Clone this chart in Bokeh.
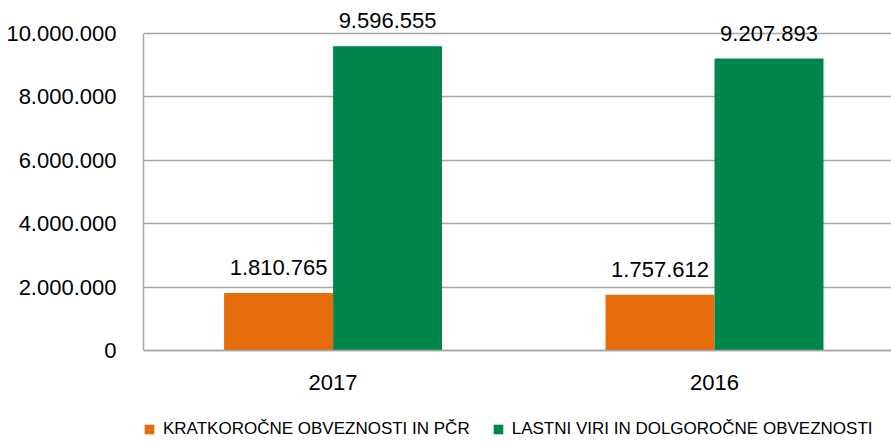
from bokeh.plotting import figure
from bokeh.models import (ColumnDataSource, Range1d, FixedTicker, CustomJSTickFormatter,
                          Legend, LegendItem, LabelSet, LinearAxis)
from bokeh.transform import dodge
from bokeh.core.properties import value
from bokeh.embed import file_html
from bokeh.resources import INLINE

years = ["2017", "2016"]
short_term = [1810765, 1757612]
long_term = [9596555, 9207893]
series_names = ["KRATKOROČNE OBVEZNOSTI IN PČR", "LASTNI VIRI IN DOLGOROČNE OBVEZNOSTI"]
y_ticks = [0, 2000000, 4000000, 6000000, 8000000, 10000000]
y_max = 10000000

ORANGE = "#E46C0A"
GREEN = "#00854A"
GRID = "#A6A6A6"
FONT = "Liberation Sans"

W, H = 891, 441
TOP, LEFT = 8, 143
PLOT_H = 317          # pixel height of 0..y_max
HEADROOM = 25         # pixels above y_max (for value labels)
FRAME_H = H - TOP
y_end = y_max * (PLOT_H + HEADROOM) / PLOT_H
y_start = y_end - y_max * FRAME_H / PLOT_H


def fmt(v):
    return f"{v:,}".replace(",", ".")


src = ColumnDataSource(dict(
    x=[i + 0.5 for i in range(len(years))],
    short=short_term,
    long=long_term,
    short_lbl=[fmt(v) for v in short_term],
    long_lbl=[fmt(v) for v in long_term],
))

p = figure(width=W, height=H, x_range=Range1d(0.003, 1.964), y_range=Range1d(y_start, y_end),
           output_backend="svg", toolbar_location=None, x_axis_location=None,
           min_border_left=LEFT, min_border_right=0, min_border_top=TOP, min_border_bottom=0)
p.outline_line_color = None
p.background_fill_color = "white"

bw = 0.2857
r1 = p.vbar(x=dodge("x", -bw / 2, range=p.x_range), top="short", width=bw, bottom=0,
            source=src, fill_color=ORANGE, line_color=None)
r2 = p.vbar(x=dodge("x", bw / 2, range=p.x_range), top="long", width=bw, bottom=0,
            source=src, fill_color=GREEN, line_color=None)

for col, lbl, off in (("short", "short_lbl", -bw / 2), ("long", "long_lbl", bw / 2)):
    ls = LabelSet(x=dodge("x", off, range=p.x_range), y=col, text=lbl, source=src,
                  text_align="center", text_baseline="bottom", y_offset=18,
                  text_font=value(FONT), text_font_size="22px", text_color="#000000")
    p.add_layout(ls)

# x axis drawn at y = 0
xaxis = LinearAxis(fixed_location=0,
                   ticker=FixedTicker(ticks=[i + 0.5 for i in range(len(years))]),
                   major_label_overrides={i + 0.5: y for i, y in enumerate(years)})
xaxis.major_tick_line_color = None
xaxis.minor_tick_line_color = None
xaxis.axis_line_color = GRID
xaxis.axis_line_width = 1.5
xaxis.major_label_standoff = 18
xaxis.major_label_text_font = FONT
xaxis.major_label_text_font_size = "22px"
xaxis.major_label_text_color = "#000000"
p.add_layout(xaxis, "below")

p.yaxis.ticker = FixedTicker(ticks=y_ticks)
p.yaxis.bounds = (0, y_max)
p.yaxis.formatter = CustomJSTickFormatter(
    code='return tick.toFixed(0).replace(/\\B(?=(\\d{3})+(?!\\d))/g, ".");')
p.yaxis.major_tick_line_color = None
p.yaxis.minor_tick_line_color = None
p.yaxis.axis_line_color = GRID
p.yaxis.axis_line_width = 1.5
p.yaxis.major_label_standoff = 21
p.yaxis.major_label_text_font = FONT
p.yaxis.major_label_text_font_size = "22px"
p.yaxis.major_label_text_color = "#000000"

p.xgrid.grid_line_color = None
p.ygrid.grid_line_color = GRID
p.ygrid.grid_line_width = 1.5
p.ygrid.ticker = FixedTicker(ticks=y_ticks)

legend = Legend(items=[LegendItem(label=series_names[0], renderers=[r1]),
                       LegendItem(label=series_names[1], renderers=[r2])],
                orientation="horizontal", location=(0, 2),
                border_line_color=None, background_fill_alpha=0,
                padding=0, margin=0, spacing=22, label_standoff=8,
                glyph_width=12, glyph_height=12, label_height=14,
                label_text_font=FONT, label_text_font_size="17px",
                label_text_color="#000000")
p.add_layout(legend, "center")

open("out.html", "w").write(file_html(p, INLINE))
